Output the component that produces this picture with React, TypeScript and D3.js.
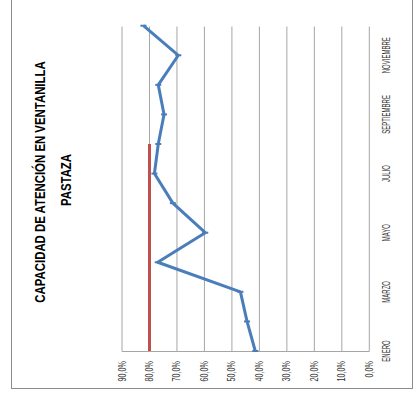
import React from "react";
import * as d3 from "d3";

// Capacidad de atención en ventanilla — Pastaza (chart drawn rotated 90°)
const months = [
  "ENERO", "FEBRERO", "MARZO", "ABRIL", "MAYO", "JUNIO",
  "JULIO", "AGOSTO", "SEPTIEMBRE", "OCTUBRE", "NOVIEMBRE", "DICIEMBRE",
];
const capacidad = [41.5, 44.5, 46.9, 77.0, 59.7, 71.5, 78.2, 76.8, 74.7, 76.8, 69.5, 82.2];
const meta = [80, 80, 80, 80, 80, 80, 80, 80];
const valueTicks = [0, 10, 20, 30, 40, 50, 60, 70, 80, 90];
const labelledMonths = ["ENERO", "MARZO", "MAYO", "JULIO", "SEPTIEMBRE", "NOVIEMBRE"];
const titleLines = ["CAPACIDAD DE ATENCIÓN EN VENTANILLA", "PASTAZA"];

const W = 414;
const H = 395;
const FONT = "'Liberation Sans Narrow', 'Liberation Sans', Arial, sans-serif";

export default function App() {
  // value axis runs right→left, category axis runs bottom→top
  const x = d3.scaleLinear().domain([0, 90]).range([369.3, 122]);
  const y = d3.scalePoint<string>().domain(months).range([351, 25.7]);

  const line = d3
    .line<number>()
    .x((d) => x(d))
    .y((_, i) => y(months[i]) as number);

  const fmt = (v: number) => v.toFixed(1).replace(".", ",") + "%";

  return (
    <svg
      width={W}
      height={H}
      style={{ position: "absolute", left: 0, top: 0, background: "#fff" }}
    >
      <rect x={11.5} y={-5} width={401} height={393.5} fill="#fff" stroke="#8c8c8c" strokeWidth={1} />

      {/* gridlines */}
      {valueTicks.map((t) => (
        <line
          key={t}
          x1={x(t)}
          x2={x(t)}
          y1={26.5}
          y2={351.5}
          stroke="#a6a6a6"
          strokeWidth={1}
        />
      ))}
      {/* category axis line */}
      <line x1={x(90)} x2={x(0)} y1={351.5} y2={351.5} stroke="#a6a6a6" strokeWidth={1} />

      {/* value tick labels */}
      {valueTicks.map((t) => (
        <text
          key={"l" + t}
          transform={`translate(${x(t) + 3.5},361) rotate(-90) scale(0.72,1)`}
          textAnchor="end"
          fontFamily={FONT}
          fontSize={10}
          fill="#333"
        >
          {fmt(t)}
        </text>
      ))}

      {/* month labels */}
      {labelledMonths.map((m) => (
        <text
          key={m}
          transform={`translate(${390},${y(m)}) rotate(-90) scale(0.6,1)`}
          textAnchor="middle"
          fontFamily={FONT}
          fontSize={10}
          fill="#333"
        >
          {m}
        </text>
      ))}

      {/* target series */}
      <path d={line(meta) || ""} fill="none" stroke="#c0504d" strokeWidth={3} />

      {/* capacity series */}
      <path
        d={line(capacidad) || ""}
        fill="none"
        stroke="#4a7ebb"
        strokeWidth={3}
        strokeLinejoin="round"
      />
      {capacidad.map((v, i) => (
        <line
          key={"m" + i}
          x1={x(v) - 3}
          x2={x(v) + 3}
          y1={y(months[i])}
          y2={y(months[i])}
          stroke="#4a7ebb"
          strokeWidth={2}
        />
      ))}

      {/* title */}
      <text
        transform={`translate(45,182) rotate(-90) scale(0.76,1)`}
        textAnchor="middle"
        fontFamily={FONT}
        fontWeight="bold"
        fontSize={15}
        fill="#000"
      >
        {titleLines[0]}
      </text>
      <text
        transform={`translate(71,180) rotate(-90) scale(0.76,1)`}
        textAnchor="middle"
        fontFamily={FONT}
        fontWeight="bold"
        fontSize={15}
        fill="#000"
      >
        {titleLines[1]}
      </text>
    </svg>
  );
}
